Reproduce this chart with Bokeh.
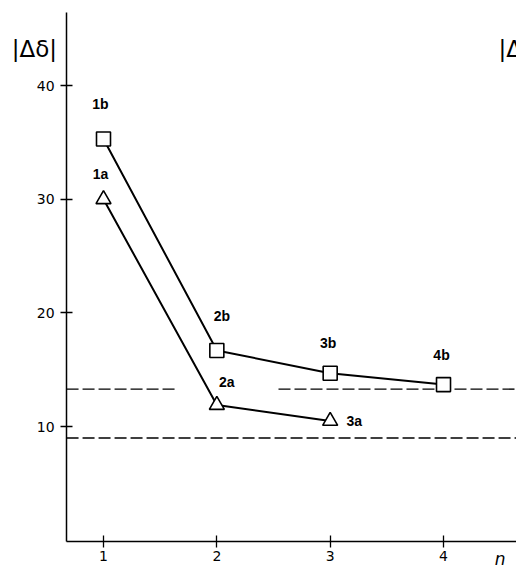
from bokeh.plotting import figure
from bokeh.models import Range1d, Label, ColumnDataSource, FixedTicker, LinearAxis
from bokeh.core.properties import value
from bokeh.embed import file_html
from bokeh.resources import INLINE

# series a (triangles) and b (squares)
n_a = [1, 2, 3]
delta_a = [30.0, 11.9, 10.5]
names_a = ["1a", "2a", "3a"]

n_b = [1, 2, 3, 4]
delta_b = [35.3, 16.7, 14.7, 13.7]
names_b = ["1b", "2b", "3b", "4b"]

# reference levels (dashed)
ref_upper = 13.3
ref_lower = 9.0

x_ticks = [1, 2, 3, 4]
y_ticks = [10, 20, 30, 40]

# plotting area limits (where the axes sit)
X_LO, X_HI = 0.674, 4.644
Y_LO, Y_HI = -0.1, 46.42

# the frame covers the whole canvas so the titles outside the axes stay visible
p = figure(width=516, height=568, output_backend="svg", toolbar_location=None,
           x_range=Range1d(0.0912, 4.644), y_range=Range1d(-2.475, 47.48),
           x_axis_location=None, y_axis_location=None,
           min_border=0)
p.outline_line_color = None
p.grid.visible = False
p.background_fill_color = "white"
p.border_fill_color = "white"

xaxis = LinearAxis(fixed_location=Y_LO, bounds=(X_LO, X_HI),
                   ticker=FixedTicker(ticks=x_ticks))
yaxis = LinearAxis(fixed_location=X_LO, bounds=(Y_LO, Y_HI),
                   ticker=FixedTicker(ticks=y_ticks))
for ax in (xaxis, yaxis):
    ax.axis_line_color = "black"
    ax.axis_line_width = 1.5
    ax.major_tick_line_color = "black"
    ax.major_tick_line_width = 1.3
    ax.major_tick_in = 6
    ax.major_tick_out = 6
    ax.minor_tick_line_color = None
    ax.major_label_text_font = "DejaVu Sans"
    ax.major_label_text_font_size = "14px"
    ax.major_label_text_color = "black"
xaxis.major_label_standoff = 4
yaxis.major_label_standoff = 6
p.add_layout(xaxis, "below")
p.add_layout(yaxis, "left")

# dashed reference lines; the upper one is interrupted around n = 2
gap_lo, gap_hi = 1.653, 2.544
p.segment(x0=[X_LO, gap_hi], x1=[gap_lo, X_HI], y0=[ref_upper] * 2, y1=[ref_upper] * 2,
          line_color="black", line_width=1.4, line_dash="12 4")
p.segment(x0=[X_LO], x1=[X_HI], y0=[ref_lower], y1=[ref_lower],
          line_color="black", line_width=1.4, line_dash="12 4")

# connecting lines
p.line(n_a, delta_a, line_color="black", line_width=2)
p.line(n_b, delta_b, line_color="black", line_width=2)

# markers
p.scatter(n_b, delta_b, marker="square", size=14, fill_color="white",
          line_color="black", line_width=1.6)
p.scatter(n_a, delta_a, marker="triangle", size=15, fill_color="white",
          line_color="black", line_width=1.6)

# point labels (screen offsets, +y is downward)
off_a = {"1a": (-3, -25), "2a": (10, -23), "3a": (24, 0)}
off_b = {"1b": (-3, -35), "2b": (5, -34), "3b": (-2, -30), "4b": (-2, -30)}
src = ColumnDataSource(dict(
    x=n_a + n_b,
    y=delta_a + delta_b,
    t=names_a + names_b,
    dx=[off_a[k][0] for k in names_a] + [off_b[k][0] for k in names_b],
    dy=[off_a[k][1] for k in names_a] + [off_b[k][1] for k in names_b],
))
p.text(x="x", y="y", text="t", x_offset="dx", y_offset="dy", source=src,
       text_font=value("Liberation Sans"), text_font_style="bold",
       text_font_size="14px", text_align="center", text_baseline="middle",
       text_color="black")

# axis titles
p.add_layout(Label(x=0.39, y=43.2, text="|Δδ|", text_font="DejaVu Sans",
                   text_font_size="23px", text_align="center",
                   text_baseline="middle", text_color="black"))
p.add_layout(Label(x=4.485, y=43.2, text="|Δδ|", text_font="DejaVu Sans",
                   text_font_size="23px", text_align="left",
                   text_baseline="middle", text_color="black"))
p.add_layout(Label(x=4.5, y=-1.6, text="n", text_font="DejaVu Sans",
                   text_font_style="italic", text_font_size="17px",
                   text_align="center", text_baseline="middle",
                   text_color="black"))

open("out.html", "w").write(file_html(p, INLINE))
